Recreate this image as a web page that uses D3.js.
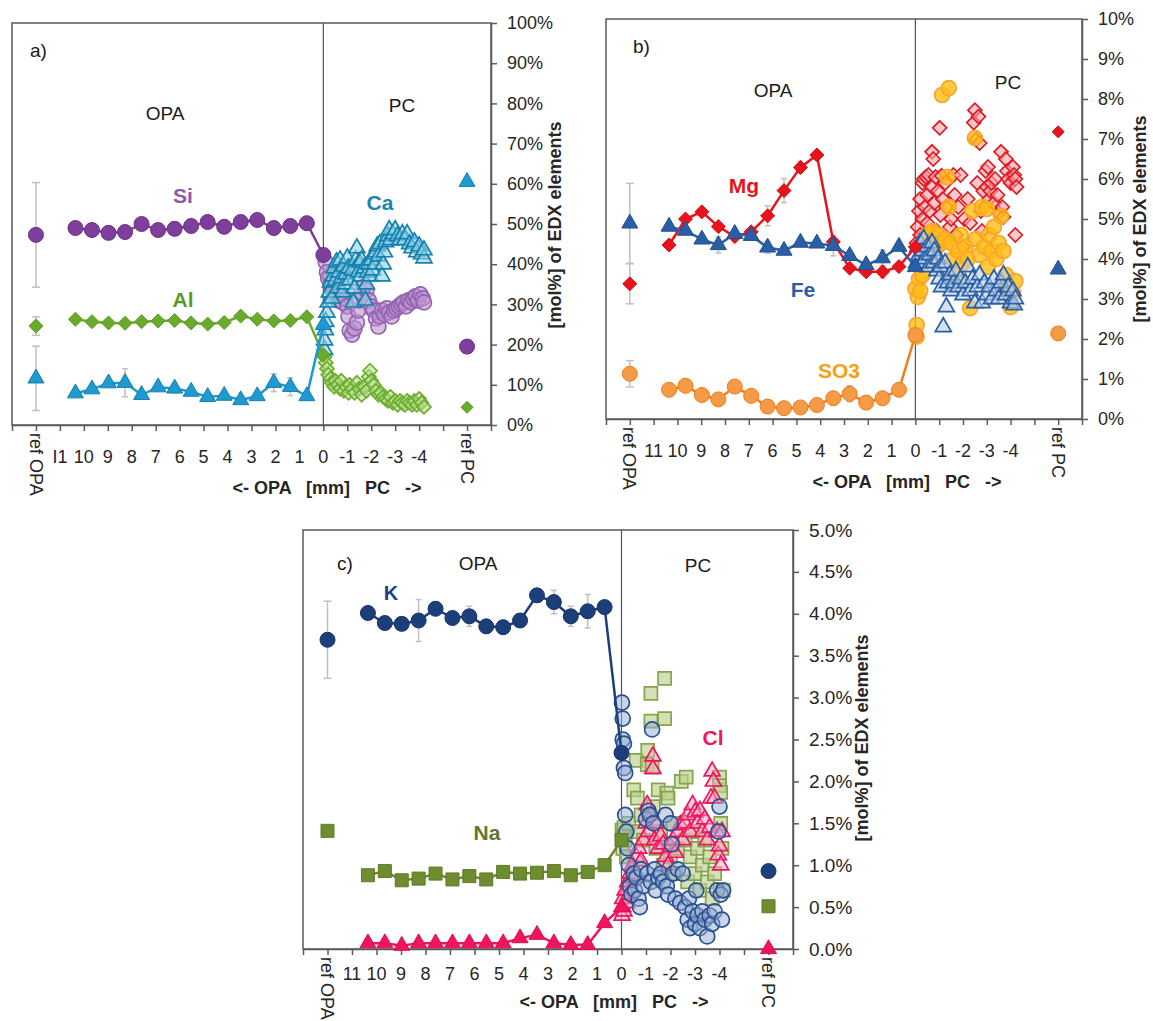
<!DOCTYPE html>
<html><head><meta charset="utf-8">
<script src="https://cdn.jsdelivr.net/npm/d3@7"></script>
<style>body{margin:0;background:#fff} text{font-family:Arial,"Liberation Sans",sans-serif}</style>
</head><body><svg id="chart" width="1153" height="1021"></svg>
<script>
// ---------- shared x data ----------
const posOPA = [10.35, 9.66, 8.97, 8.28, 7.59, 6.90, 6.21, 5.52, 4.83, 4.14, 3.45, 2.76, 2.07, 1.38, 0.69];
const xTicks = [13,12,11,10,9,8,7,6,5,4,3,2,1,0,-1,-2,-3,-4,-5,-6,-7];
const xNumLabelsA = [[11,"I1"],[10,"10"],[9,"9"],[8,"8"],[7,"7"],[6,"6"],[5,"5"],[4,"4"],[3,"3"],[2,"2"],[1,"1"],[0,"0"],[-1,"-1"],[-2,"-2"],[-3,"-3"],[-4,"-4"]];
const xNumLabels = [[11,"11"],[10,"10"],[9,"9"],[8,"8"],[7,"7"],[6,"6"],[5,"5"],[4,"4"],[3,"3"],[2,"2"],[1,"1"],[0,"0"],[-1,"-1"],[-2,"-2"],[-3,"-3"],[-4,"-4"]];
const refOPAx = 12, refPCx = -6;

// ---------- panel a ----------
const siOPA = [49.0, 48.5, 47.8, 48.0, 50.0, 48.5, 48.8, 49.5, 50.5, 49.3, 50.5, 51.0, 49.0, 49.5, 50.2];
const siErr = [0, 0, 0, 1.2, 0, 0, 0.8, 0, 0, 0, 0, 0, 0, 0, 0];
const alOPA = [26.3, 25.7, 25.4, 25.3, 25.7, 25.9, 26.0, 25.4, 25.1, 25.5, 27.1, 26.3, 25.9, 26.0, 26.9];
const alErr = [0, 0, 0, 0, 0, 0, 0, 0, 0, 0, 0, 0, 0, 0, 0];
const caOPA = [7.9, 8.9, 10.4, 10.5, 7.5, 9.4, 9.1, 8.3, 7.0, 7.3, 6.2, 7.2, 10.5, 9.5, 7.2];
const caErr = [0, 0, 0, 3.5, 0, 0, 1.2, 0, 0, 0, 0, 0, 2.2, 2.2, 0];
const aZero = {si: 42.3, al: 17.4, ca: 24.9};
const aRefOPA = {si: [47.3, 13.0], al: [24.6, 2.3], ca: [11.6, 8.0]};
const aRefPC = {si: 19.5, al: 4.4, ca: 60.5};
const caPC = [[-0.05,18.7],[-0.05,21.1],[-0.08,23.6],[-0.1,25.7],[-0.15,28],[-0.2,30.5],[-0.25,33],[-0.3,35.5],[-0.35,31.5],[-0.4,37],[-0.45,39],[-0.5,36],[-0.55,40.5],[-0.6,34],[-0.65,38],[-0.7,41],[-0.75,36.5],[-0.8,33],[-0.85,39.5],[-0.9,35],[-0.95,37.5],[-1.0,41.5],[-1.05,39],[-1.1,36],[-1.2,38.5],[-1.25,30.5],[-1.3,34],[-1.35,41],[-1.4,44],[-1.45,38],[-1.5,40.5],[-1.55,37],[-1.6,41],[-1.7,39],[-1.75,31],[-1.8,35],[-1.85,38],[-1.9,40],[-1.95,37],[-2.0,41],[-2.05,38.5],[-2.1,42.5],[-2.15,40],[-2.2,43],[-2.25,44.5],[-2.3,42],[-2.35,45],[-2.45,37],[-2.5,40],[-2.55,43],[-2.6,45.5],[-2.7,47],[-2.75,48.5],[-2.8,46],[-2.9,47.5],[-3.0,48.5],[-3.1,47],[-3.2,46],[-3.3,47.5],[-3.4,46],[-3.5,47.5],[-3.6,45],[-3.7,44],[-3.8,45.5],[-3.9,43],[-4.0,44.5],[-4.1,42.5],[-4.2,41.5],[-4.2,43.5]];
const siPC = [[-0.1,40.5],[-0.15,38],[-0.2,36.5],[-0.3,35],[-0.4,33.5],[-0.5,32],[-0.55,34],[-0.6,31],[-0.7,32.5],[-0.8,30.5],[-0.9,31.5],[-1.0,29.5],[-1.05,27],[-1.1,23.5],[-1.2,22.5],[-1.3,24],[-1.4,25.5],[-1.45,28.5],[-1.5,31],[-1.6,33],[-1.7,34.5],[-1.8,33.5],[-1.9,31],[-2.0,29.5],[-2.1,28.5],[-2.2,26.5],[-2.3,24.5],[-2.35,27],[-2.45,28.5],[-2.55,27.5],[-2.65,29],[-2.75,28],[-2.85,27],[-2.95,28.5],[-3.05,29],[-3.15,29.5],[-3.25,30],[-3.35,30.5],[-3.45,29.5],[-3.55,31],[-3.65,30.5],[-3.75,31.5],[-3.85,32],[-3.95,31],[-4.05,32.5],[-4.15,31.5],[-4.2,30.5]];
const alPC = [[-0.05,17.0],[-0.1,15.5],[-0.15,14],[-0.2,12.5],[-0.3,11.5],[-0.35,10.5],[-0.45,9.5],[-0.5,11],[-0.6,10],[-0.7,9],[-0.75,11],[-0.85,8.5],[-0.95,9.5],[-1.05,8],[-1.1,10],[-1.2,9],[-1.3,8],[-1.4,10.5],[-1.5,9],[-1.6,7.5],[-1.7,9.5],[-1.8,8.5],[-1.9,12],[-1.95,13.5],[-2.0,11],[-2.1,10],[-2.2,8.5],[-2.3,7.5],[-2.4,8],[-2.5,7],[-2.6,6.5],[-2.7,6],[-2.8,7],[-2.9,5.5],[-3.0,6],[-3.1,5],[-3.2,6],[-3.3,5.5],[-3.4,5],[-3.5,6],[-3.6,5.5],[-3.7,5],[-3.8,6],[-3.9,5],[-4.0,6.5],[-4.1,5.5],[-4.2,4.5]];
const aTicks = [0,10,20,30,40,50,60,70,80,90,100];

// ---------- panel b ----------
const mgOPA = [4.35, 5.0, 5.18, 4.81, 4.56, 4.68, 5.08, 5.71, 6.29, 6.6, 4.43, 3.77, 3.68, 3.68, 3.81];
const mgErr = [0, 0, 0, 0, 0, 0, 0.25, 0.3, 0.15, 0, 0, 0, 0, 0.15, 0];
const feOPA = [4.81, 4.71, 4.49, 4.35, 4.63, 4.58, 4.29, 4.21, 4.41, 4.39, 4.33, 4.08, 3.85, 4.02, 4.31];
const feErr = [0, 0, 0, 0.2, 0, 0, 0.15, 0, 0, 0, 0.25, 0, 0, 0.2, 0];
const so3OPA = [0.73, 0.83, 0.6, 0.49, 0.81, 0.58, 0.31, 0.27, 0.29, 0.35, 0.52, 0.63, 0.41, 0.52, 0.73];
const so3Err = [0, 0, 0, 0.12, 0, 0.15, 0, 0, 0, 0, 0, 0.2, 0, 0, 0];
const bZero = {mg: 4.3, fe: 3.8, so3: 2.1};
const bRefOPA = {mg: [3.38, 0.5], fe: [4.89, 1.0], so3: [1.13, 0.33]};
const bRefPC = {mg: 7.18, fe: 3.74, so3: 2.14};
const mgPC = [[-0.05,4.4],[-0.1,4.8],[-0.15,5.2],[-0.2,5.5],[-0.2,4.6],[-0.3,5.9],[-0.3,5.0],[-0.35,6.0],[-0.4,5.3],[-0.45,6.05],[-0.5,5.6],[-0.5,4.9],[-0.55,6.1],[-0.6,5.2],[-0.7,6.68],[-0.7,5.8],[-0.75,6.5],[-0.8,5.4],[-0.85,6.05],[-0.9,4.7],[-0.95,5.7],[-1.02,7.28],[-1.05,5.1],[-1.1,6.08],[-1.15,5.5],[-1.25,5.9],[-1.3,5.3],[-1.4,4.5],[-1.45,4.8],[-1.5,5.0],[-1.6,6.1],[-1.65,5.6],[-1.7,4.6],[-1.8,5.3],[-1.9,6.1],[-2.0,4.3],[-2.05,5.0],[-2.2,5.5],[-2.3,4.9],[-2.45,7.41],[-2.5,7.72],[-2.55,6.98],[-2.6,5.9],[-2.65,7.56],[-2.7,6.9],[-2.75,5.2],[-2.8,4.7],[-2.85,5.7],[-2.9,5.3],[-2.95,6.2],[-3.0,5.8],[-3.05,6.3],[-3.1,5.5],[-3.15,5.7],[-3.2,5.9],[-3.3,5.4],[-3.35,6.0],[-3.45,5.6],[-3.5,5.15],[-3.6,6.68],[-3.65,5.3],[-3.8,6.5],[-3.7,5.05],[-3.85,6.2],[-3.9,6.0],[-4.0,5.9],[-4.1,6.3],[-4.15,6.1],[-4.2,6.0],[-4.25,5.8],[-4.2,4.6]];
const so3PC = [[0.0,3.25],[-0.05,2.35],[-0.05,2.06],[-0.1,3.05],[-0.15,3.5],[-0.2,3.2],[-0.3,3.6],[-0.4,4.4],[-0.5,4.6],[-0.6,4.2],[-0.7,4.7],[-0.8,4.5],[-0.9,4.3],[-1.0,4.6],[-1.1,4.4],[-1.12,8.1],[-1.4,8.27],[-1.33,6.05],[-1.25,4.5],[-1.4,5.3],[-1.5,4.4],[-1.6,4.0],[-1.7,3.6],[-1.8,4.2],[-1.9,4.6],[-2.0,3.9],[-2.1,4.3],[-2.2,4.0],[-2.3,2.77],[-2.4,5.2],[-2.5,7.02],[-2.55,4.5],[-2.7,4.1],[-2.8,5.3],[-2.9,4.3],[-3.0,5.25],[-3.05,3.8],[-3.1,4.6],[-3.2,4.2],[-3.3,4.8],[-3.4,4.0],[-3.5,4.4],[-3.6,5.07],[-3.7,4.2],[-3.8,3.6],[-3.9,3.3],[-4.0,2.8],[-4.1,3.15],[-4.2,3.45]];
const fePC = [[-0.05,3.9],[-0.1,4.3],[-0.15,4.1],[-0.2,4.4],[-0.25,3.9],[-0.3,4.2],[-0.35,4.5],[-0.4,4.0],[-0.5,4.3],[-0.55,3.8],[-0.6,4.1],[-0.7,4.4],[-0.75,3.9],[-0.8,4.2],[-0.9,3.7],[-0.95,4.0],[-1.0,3.5],[-1.05,3.8],[-1.1,3.3],[-1.17,2.3],[-1.25,3.9],[-1.3,2.8],[-1.35,3.4],[-1.45,3.6],[-1.5,3.2],[-1.6,3.4],[-1.7,3.7],[-1.8,3.3],[-1.9,3.5],[-2.0,3.1],[-2.1,3.4],[-2.2,3.8],[-2.3,3.2],[-2.4,3.5],[-2.5,2.9],[-2.6,3.3],[-2.7,3.6],[-2.8,2.9],[-2.9,3.4],[-3.0,3.1],[-3.1,3.3],[-3.2,3.0],[-3.3,3.5],[-3.4,3.2],[-3.5,3.0],[-3.6,3.4],[-3.7,3.6],[-3.8,3.1],[-3.9,3.3],[-4.0,2.9],[-4.1,3.2],[-4.15,2.85],[-4.2,3.0]];
const bTicks = [0,1,2,3,4,5,6,7,8,9,10];

// ---------- panel c ----------
const kOPA = [4.01, 3.89, 3.88, 3.92, 4.06, 3.95, 3.97, 3.85, 3.84, 3.92, 4.22, 4.14, 3.97, 4.03, 4.08];
const kErr = [0, 0, 0, 0.25, 0, 0, 0.12, 0, 0, 0.08, 0, 0.14, 0.12, 0.2, 0];
const naOPA = [0.88, 0.93, 0.82, 0.84, 0.90, 0.83, 0.87, 0.83, 0.92, 0.90, 0.91, 0.93, 0.88, 0.92, 1.0];
const naErr = [0, 0, 0, 0, 0, 0, 0, 0, 0, 0, 0, 0, 0, 0, 0];
const clOPA = [0.07, 0.07, 0.04, 0.07, 0.07, 0.07, 0.07, 0.07, 0.07, 0.13, 0.17, 0.07, 0.05, 0.05, 0.31];
const clErr = [0, 0, 0, 0, 0, 0, 0, 0, 0, 0, 0, 0, 0, 0, 0];
const cZero = {k: 2.34, na: 1.3, cl: 0.5};
const cRefOPA = {k: [3.69, 0.46], na: [1.41, 0.05], cl: null};
const cRefPC = {k: 0.93, na: 0.51, cl: 0.0};
const kPC = [[-0.02,2.94],[-0.05,2.75],[-0.05,2.5],[-0.1,2.45],[-0.1,2.16],[-0.15,2.1],[-0.15,1.6],[-0.2,1.4],[-0.25,1.2],[-0.3,1.0],[-0.35,0.75],[-0.4,0.65],[-0.5,0.9],[-0.55,0.7],[-0.6,0.85],[-0.7,0.6],[-0.75,0.5],[-0.8,0.95],[-0.9,0.75],[-1.0,1.55],[-1.05,0.9],[-1.1,1.65],[-1.15,1.6],[-1.2,0.8],[-1.25,2.62],[-1.3,1.5],[-1.35,0.95],[-1.4,0.7],[-1.5,0.85],[-1.6,0.9],[-1.7,0.8],[-1.8,1.6],[-1.85,0.75],[-1.9,0.65],[-2.0,1.5],[-2.05,1.25],[-2.1,0.9],[-2.2,0.6],[-2.3,0.95],[-2.4,0.55],[-2.5,0.9],[-2.6,0.5],[-2.7,0.35],[-2.75,0.6],[-2.8,0.25],[-2.9,0.45],[-3.0,0.3],[-3.05,0.7],[-3.1,0.4],[-3.2,0.25],[-3.3,0.45],[-3.4,0.35],[-3.5,0.15],[-3.6,0.4],[-3.7,0.3],[-3.8,0.45],[-3.9,0.7],[-3.95,1.4],[-4.0,1.7],[-4.05,0.65],[-4.1,0.35],[-4.15,0.7]];
const naPC = [[-0.02,1.42],[-0.05,1.2],[-0.05,1.35],[-0.1,1.45],[-0.15,1.3],[-0.2,1.1],[-0.3,1.5],[-0.5,1.9],[-0.6,2.25],[-0.65,1.8],[-0.7,1.4],[-0.8,1.6],[-0.9,1.3],[-1.07,2.37],[-1.05,2.2],[-1.2,3.05],[-1.2,2.72],[-1.25,2.17],[-1.3,1.7],[-1.4,1.2],[-1.5,1.9],[-1.6,1.4],[-1.7,1.0],[-1.76,3.23],[-1.76,2.75],[-1.85,1.86],[-1.9,1.8],[-2.0,1.1],[-2.1,1.5],[-2.2,0.9],[-2.3,1.2],[-2.44,2.0],[-2.64,2.05],[-2.6,1.3],[-2.7,0.8],[-2.8,1.1],[-2.9,1.4],[-3.0,0.9],[-3.1,1.2],[-3.2,0.7],[-3.3,1.0],[-3.4,1.3],[-3.5,0.8],[-3.6,1.1],[-3.7,0.6],[-3.8,0.9],[-4.0,2.05],[-4.0,1.95],[-4.05,1.87],[-4.05,1.5],[-4.1,1.2],[-4.15,0.7]];
const clPC = [[-0.02,0.4],[-0.05,0.5],[-0.05,0.6],[-0.1,0.45],[-0.15,0.7],[-0.2,0.55],[-0.25,0.8],[-0.3,0.65],[-0.35,0.9],[-0.45,1.0],[-0.5,0.85],[-0.6,1.1],[-0.7,1.2],[-0.8,1.05],[-0.9,1.3],[-1.0,1.5],[-1.05,1.72],[-1.1,1.4],[-1.2,1.6],[-1.28,2.3],[-1.28,2.15],[-1.35,1.3],[-1.4,1.5],[-1.5,1.2],[-1.6,1.35],[-1.7,1.25],[-1.8,1.1],[-1.9,1.0],[-2.0,1.22],[-2.1,1.3],[-2.2,1.15],[-2.3,1.4],[-2.4,1.48],[-2.5,1.3],[-2.6,1.5],[-2.7,1.6],[-2.8,1.4],[-2.9,1.72],[-3.0,1.63],[-3.1,1.5],[-3.2,1.65],[-3.3,1.4],[-3.4,1.55],[-3.5,1.3],[-3.6,1.45],[-3.65,1.8],[-3.7,2.12],[-3.75,2.0],[-3.8,1.8],[-3.9,1.4],[-3.95,1.12],[-4.0,1.23],[-4.05,1.0],[-4.1,1.4]];
const cTicks = [0,0.5,1,1.5,2,2.5,3,3.5,4,4.5,5];

// ---------- drawing ----------
const svg = d3.select("#chart");
svg.append("rect").attr("width",1153).attr("height",1021).attr("fill","#fff");

function marker(shape, s){
  if(shape==="circle") return `M${s},0A${s},${s} 0 1,1 ${-s},0A${s},${s} 0 1,1 ${s},0Z`;
  if(shape==="diamond") return `M0,${-s}L${s},0L0,${s}L${-s},0Z`;
  if(shape==="triangle"){const h=s*1.732;return `M0,${-h*2/3}L${s},${h/3}L${-s},${h/3}Z`;}
  return `M${-s},${-s}H${s}V${s}H${-s}Z`;
}

function panel(cfg){
  const g = svg.append("g");
  const x = d3.scaleLinear().domain([13,-7]).range([cfg.left,cfg.right]);
  const y = d3.scaleLinear().domain([0,cfg.ymax]).range([cfg.bottom,cfg.top]);
  g.append("rect").attr("x",cfg.left).attr("y",cfg.top).attr("width",cfg.right-cfg.left).attr("height",cfg.bottom-cfg.top)
    .attr("fill","none").attr("stroke","#5a5a5a").attr("stroke-width",1.5);
  g.append("line").attr("x1",x(0)).attr("x2",x(0)).attr("y1",cfg.top).attr("y2",cfg.bottom).attr("stroke","#555").attr("stroke-width",1.2);
  const ay = g.append("g").attr("transform",`translate(${cfg.right},0)`)
    .call(d3.axisRight(y).tickValues(cfg.yTicks).tickFormat(cfg.fmt).tickSize(6).tickSizeOuter(0).tickPadding(10));
  ay.select(".domain").attr("stroke","#5a5a5a").attr("stroke-width",1.5);
  ay.selectAll(".tick line").attr("stroke","#5a5a5a").attr("stroke-width",1.5);
  ay.selectAll(".tick text").attr("font-size",cfg.yFont).attr("fill","#262626").attr("font-family","Arial,'Liberation Sans',sans-serif");
  const ax = g.append("g").attr("transform",`translate(0,${cfg.bottom})`)
    .call(d3.axisBottom(x).tickValues(xTicks).tickFormat("").tickSize(6).tickSizeOuter(0));
  ax.select(".domain").attr("stroke","#5a5a5a").attr("stroke-width",1.5);
  ax.selectAll(".tick line").attr("stroke","#5a5a5a").attr("stroke-width",1.5);
  cfg.xLabels.forEach(([v,t])=>{
    g.append("text").attr("x",x(v)).attr("y",cfg.bottom+cfg.numOff).attr("text-anchor","middle")
      .attr("font-size",18).attr("fill","#262626").text(t);
  });
  [[refOPAx,"ref OPA"],[refPCx,"ref PC"]].forEach(([v,t])=>{
    g.append("text").attr("transform",`translate(${x(v)},${cfg.bottom+8}) rotate(90)`).attr("dy","0.35em")
      .attr("font-size",18).attr("fill","#262626").text(t);
  });
  g.append("text").attr("x",cfg.titleX).attr("y",cfg.bottom+cfg.titleOff).attr("text-anchor","middle")
    .attr("font-size",18).attr("font-weight","bold").attr("fill","#262626").style("white-space","pre")
    .text("<- OPA   [mm]   PC   ->");
  g.append("text").attr("transform",`translate(${cfg.ytX},${cfg.ytY}) rotate(-90)`).attr("text-anchor","middle")
    .attr("font-size",18).attr("font-weight","bold").attr("fill","#262626").text("[mol%] of EDX elements");
  cfg.texts.forEach(t=>{
    g.append("text").attr("x",t[1]).attr("y",t[2]).attr("text-anchor",t[3]||"middle")
      .attr("font-size",t[4]||19).attr("font-weight",t[5]||"normal").attr("fill",t[6]||"#1a1a1a").text(t[0]);
  });

  const plot = g.append("g");
  cfg.series.forEach(s=>{
    plot.append("g").selectAll("path").data(s.pc).join("path")
      .attr("transform",d=>`translate(${x(d[0])},${y(d[1])})`)
      .attr("d",marker(s.shape,s.size))
      .attr("fill",s.pcFill).attr("fill-opacity",s.pcOp||0.6)
      .attr("stroke",s.pcStroke).attr("stroke-width",1.7);
  });
  cfg.series.forEach(s=>{
    const pts = posOPA.map((p,i)=>[p,s.opa[i],s.err[i]]);
    const eb = plot.append("g").attr("stroke","#c0c0c0").attr("stroke-width",1.5);
    pts.filter(d=>d[2]>0).forEach(d=>{
      eb.append("line").attr("x1",x(d[0])).attr("x2",x(d[0])).attr("y1",y(d[1]-d[2])).attr("y2",y(d[1]+d[2]));
      [d[1]-d[2],d[1]+d[2]].forEach(v=>eb.append("line").attr("x1",x(d[0])-3).attr("x2",x(d[0])+3).attr("y1",y(v)).attr("y2",y(v)));
    });
    if(s.ref){
      const [v,e]=s.ref;
      eb.append("line").attr("x1",x(refOPAx)).attr("x2",x(refOPAx)).attr("y1",y(v-e)).attr("y2",y(v+e));
      [v-e,v+e].forEach(w=>eb.append("line").attr("x1",x(refOPAx)-4).attr("x2",x(refOPAx)+4).attr("y1",y(w)).attr("y2",y(w)));
    }
  });
  cfg.series.forEach(s=>{
    const pts = posOPA.map((p,i)=>[p,s.opa[i]]);
    const lineData = pts.concat([[0,s.zero]]);
    plot.append("path").datum(lineData).attr("fill","none").attr("stroke",s.color).attr("stroke-width",2.5)
      .attr("d",d3.line().x(d=>x(d[0])).y(d=>y(d[1])));
    plot.append("g").selectAll("path").data(lineData).join("path")
      .attr("transform",d=>`translate(${x(d[0])},${y(d[1])})`)
      .attr("d",marker(s.shape,s.size)).attr("fill",s.fill).attr("stroke",s.stroke).attr("stroke-width",1);
    if(s.ref){
      plot.append("path").attr("transform",`translate(${x(refOPAx)},${y(s.ref[0])})`)
        .attr("d",marker(s.shape,s.size)).attr("fill",s.fill).attr("stroke",s.stroke).attr("stroke-width",1);
    }
    plot.append("path").attr("transform",`translate(${x(refPCx)},${y(s.refPC)})`)
      .attr("d",marker(s.shape,s.refSize||s.size)).attr("fill",s.fill).attr("stroke",s.stroke).attr("stroke-width",1);
  });
}

panel({left:12,right:491,top:23,bottom:425,ymax:100,yTicks:aTicks,fmt:d=>d+"%",yFont:18,
  xLabels:xNumLabelsA,numOff:38,titleOff:69,titleX:327,ytX:561,ytY:225,
  texts:[["a)",30,57,"start"],["OPA",165,120],["PC",402,112],
    ["Si",183,203,"middle",21,"bold","#8b58a8"],["Al",183,307,"middle",21,"bold","#5a9a22"],["Ca",380,210,"middle",21,"bold","#1a86b3"]],
  series:[
    {opa:alOPA,err:alErr,zero:aZero.al,ref:aRefOPA.al,refPC:aRefPC.al,shape:"diamond",size:7,refSize:6,color:"#6aaa2c",fill:"#6aaa2c",stroke:"#5c9a22",pc:alPC,pcFill:"#b9dc8e",pcStroke:"#6cae2e"},
    {opa:siOPA,err:siErr,zero:aZero.si,ref:aRefOPA.si,refPC:aRefPC.si,shape:"circle",size:7.5,color:"#7e3f9c",fill:"#7e3f9c",stroke:"#6a2f88",pc:siPC,pcFill:"#bb93d0",pcStroke:"#9464b0"},
    {opa:caOPA,err:caErr,zero:aZero.ca,ref:aRefOPA.ca,refPC:aRefPC.ca,shape:"triangle",size:8,color:"#1e9ad0",fill:"#1e9ad0",stroke:"#1680ad",pc:caPC,pcFill:"#8fcfe6",pcStroke:"#1582ae"}
  ]});

panel({left:606,right:1082,top:19,bottom:419,ymax:10,yTicks:bTicks,fmt:d=>d+"%",yFont:18,
  xLabels:xNumLabels,numOff:38,titleOff:69,titleX:907,ytX:1146,ytY:219,
  texts:[["b)",633,53,"start"],["OPA",773,97],["PC",1008,89],
    ["Mg",744,193,"middle",21,"bold","#e8141c"],["Fe",803,297,"middle",21,"bold","#2b5fa5"],["SO3",839,378,"middle",21,"bold","#f2a30f"]],
  series:[
    {opa:mgOPA,err:mgErr,zero:bZero.mg,ref:bRefOPA.mg,refPC:bRefPC.mg,shape:"diamond",size:7,refSize:6,color:"#e8141c",fill:"#e8141c",stroke:"#d01018",pc:mgPC,pcFill:"#f6a3a7",pcStroke:"#e01a22",pcOp:0.6},
    {opa:so3OPA,err:so3Err,zero:bZero.so3,ref:bRefOPA.so3,refPC:bRefPC.so3,shape:"circle",size:7.5,color:"#f07d1a",fill:"#f59a45",stroke:"#ee7d1a",pc:so3PC,pcFill:"#ffbb10",pcStroke:"#f7a530",pcOp:0.8},
    {opa:feOPA,err:feErr,zero:bZero.fe,ref:bRefOPA.fe,refPC:bRefPC.fe,shape:"triangle",size:8,color:"#2b5fa5",fill:"#2b5fa5",stroke:"#1f4f90",pc:fePC,pcFill:"#b9cde6",pcStroke:"#2b5fa5",pcOp:0.6}
  ]});

panel({left:303,right:793,top:530,bottom:949,ymax:5,yTicks:cTicks,fmt:d=>d.toFixed(1)+"%",yFont:19,
  xLabels:xNumLabels,numOff:31,titleOff:59,titleX:614,ytX:868,ytY:738,
  texts:[["c)",337,570,"start"],["OPA",478,570],["PC",698,572],
    ["K",391,600,"middle",20,"bold","#1f3f80"],["Na",487,840,"middle",21,"bold","#5f7a2a"],["Cl",713,745,"middle",21,"bold","#f0145f"]],
  series:[
    {opa:naOPA,err:naErr,zero:cZero.na,ref:cRefOPA.na,refPC:cRefPC.na,shape:"square",size:6.5,color:"#6b8a2e",fill:"#6e8c30",stroke:"#5f7a26",pc:naPC,pcFill:"#bcd18e",pcStroke:"#87a350",pcOp:0.65},
    {opa:clOPA,err:clErr,zero:cZero.cl,ref:null,refPC:cRefPC.cl,shape:"triangle",size:8,color:"#f0145f",fill:"#f0145f",stroke:"#d81055",pc:clPC,pcFill:"#f9a6c2",pcStroke:"#f0145f",pcOp:0.5},
    {opa:kOPA,err:kErr,zero:cZero.k,ref:cRefOPA.k,refPC:cRefPC.k,shape:"circle",size:7.5,color:"#1c3f7c",fill:"#1c3f7c",stroke:"#16336a",pc:kPC,pcFill:"#93acd2",pcStroke:"#2a5090",pcOp:0.5}
  ]});
</script></body></html>
